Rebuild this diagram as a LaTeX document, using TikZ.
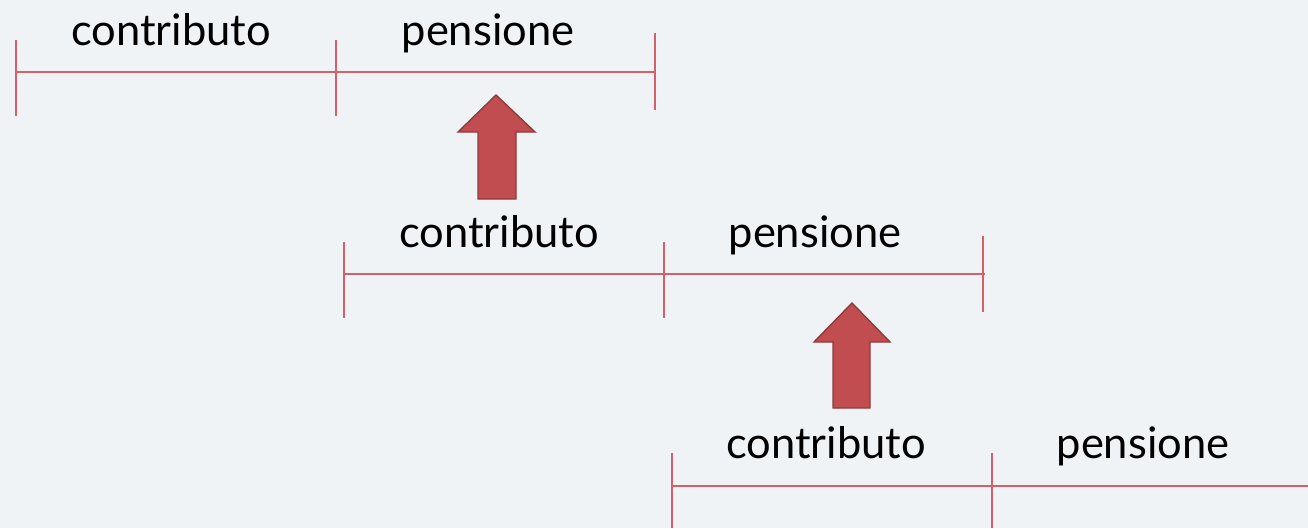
\documentclass[tikz,border=0pt]{standalone}
\usepackage{fontspec}
\setmainfont{Lato}
\definecolor{bg}{HTML}{EFF3F5}
\definecolor{tl}{HTML}{D6606A}
\definecolor{arf}{HTML}{C24D50}
\definecolor{ard}{HTML}{8E3B3B}
\tikzset{
  tline/.style={draw=tl, line width=1.2pt},
  lbl/.style={anchor=base, inner sep=0pt, font=\fontsize{43.5}{47}\selectfont, text=black},
  bigarrow/.style={fill=arf, draw=ard, line width=1.4pt, line join=miter}
}
\begin{document}
\begin{tikzpicture}[x=1pt,y=-1pt]
\fill[bg] (0,0) rectangle (1308,528);
\useasboundingbox (0,0) rectangle (1308,528);
% row 1
\coordinate (a1) at (16,72); \coordinate (b1) at (336,72); \coordinate (c1) at (655,72);
\draw[tline] (a1) -- (c1);
\draw[tline] (16,40) -- (16,116);
\draw[tline] (336,40) -- (336,116);
\draw[tline] (655,33) -- (655,110);
\node[lbl] (k1) at (171,45) {contributo};
\node[lbl] (p1) at (488,45) {pensione};
% arrow 1
\draw[bigarrow] (496,95) -- (535,132) -- (516,132) -- (516,199) -- (478,199) -- (478,132) -- (458,132) -- cycle;
% row 2
\coordinate (a2) at (344,274); \coordinate (c2) at (985,274);
\draw[tline] (a2) -- (c2);
\draw[tline] (344,242) -- (344,318);
\draw[tline] (664,242) -- (664,318);
\draw[tline] (983,236) -- (983,312);
\node[lbl] (k2) at (499,247) {contributo};
\node[lbl] (p2) at (815,247) {pensione};
% arrow 2
\draw[bigarrow] (852,303) -- (890,342) -- (870,342) -- (870,408) -- (833,408) -- (833,342) -- (814,342) -- cycle;
% row 3
\coordinate (a3) at (672,486); \coordinate (c3) at (1308,486);
\draw[tline] (a3) -- (c3);
\draw[tline] (672,453) -- (672,528);
\draw[tline] (992,453) -- (992,528);
\node[lbl] (k3) at (826,458) {contributo};
\node[lbl] (p3) at (1143,458) {pensione};
\end{tikzpicture}
\end{document}
